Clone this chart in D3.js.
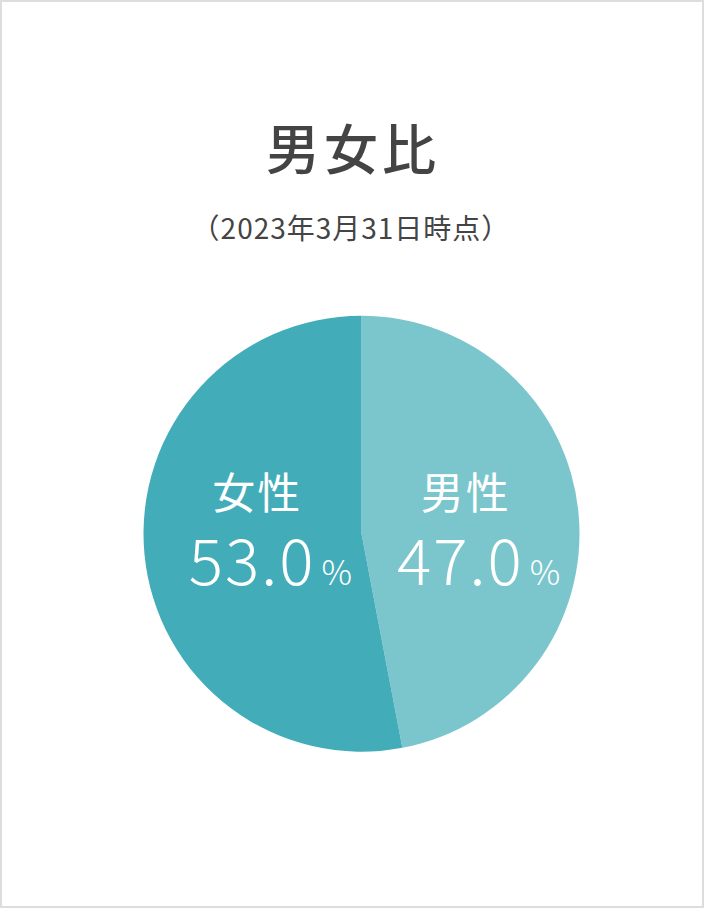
<!DOCTYPE html>
<html><head><meta charset="utf-8">
<script src="https://cdn.jsdelivr.net/npm/d3@7"></script>
<style>
html,body{margin:0;padding:0;background:#fff;}
svg{display:block;}
</style></head>
<body>
<script>
const categories = ["男性", "女性"];
const values = [47.0, 53.0];
const colors = ["#7bc6cd", "#43acb9"];
const title = "男女比";
const subtitle = "（2023年3月31日時点）";

const W = 704, H = 908;
const svg = d3.select("body").append("svg").attr("width", W).attr("height", H);
svg.append("rect").attr("x", 1).attr("y", 1).attr("width", W - 2).attr("height", H - 2)
  .attr("fill", "#fff").attr("stroke", "#dddddd").attr("stroke-width", 2);

const font = "'Noto Sans CJK JP', 'Noto Sans', sans-serif";
svg.append("text").attr("x", 353).attr("y", 170).attr("text-anchor", "middle")
  .attr("font-family", font).attr("font-size", 54).attr("font-weight", 500)
  .attr("letter-spacing", 4).attr("fill", "#444").text(title);
svg.append("text").attr("x", 351).attr("y", 239).attr("text-anchor", "middle")
  .attr("font-family", font).attr("font-size", 28).attr("font-weight", 400)
  .attr("letter-spacing", 1).attr("fill", "#444").text(subtitle);

const cx = 361.5, cy = 533.7, r = 218;
const g = svg.append("g").attr("transform", `translate(${cx},${cy})`);
const data = categories.map((c, i) => ({cat: c, value: values[i], color: colors[i]}));
const pie = d3.pie().value(d => d.value).sort(null);
const arc = d3.arc().innerRadius(0).outerRadius(r);
const labelArc = d3.arc().innerRadius(r * 0.48).outerRadius(r * 0.48);
const arcs = pie(data);
g.selectAll("path").data(arcs).join("path").attr("d", arc).attr("fill", d => d.data.color);

const lg = g.selectAll("g.lab").data(arcs).join("g").attr("class", "lab")
  .attr("transform", d => { const c = labelArc.centroid(d); return `translate(${c[0]},0)`; });
lg.append("text").attr("text-anchor", "middle").attr("x", 0).attr("y", -25)
  .attr("font-family", font).attr("font-size", 43).attr("font-weight", 400)
  .attr("letter-spacing", 2).attr("fill", "#fff").text(d => d.data.cat);
const nt = lg.append("text").attr("text-anchor", "middle").attr("x", 13).attr("y", 51)
  .attr("font-family", font).attr("fill", "#fff").attr("font-weight", 300);
nt.append("tspan").attr("font-size", 64).attr("letter-spacing", 2).text(d => d.data.value.toFixed(1));
nt.append("tspan").attr("font-size", 34).attr("dx", 6).text("%");
</script>
</body></html>
